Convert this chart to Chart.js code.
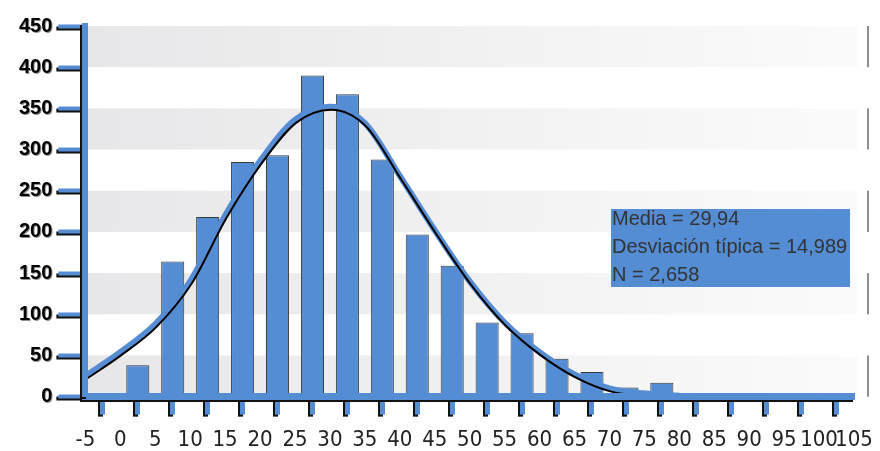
<!DOCTYPE html>
<html>
<head>
<meta charset="utf-8">
<script src="https://cdn.jsdelivr.net/npm/chart.js@4/dist/chart.umd.min.js"></script>
<style>
  html, body { margin: 0; padding: 0; background: #ffffff; }
  canvas { display: block; }
</style>
</head>
<body>
<canvas id="hist" width="880" height="451"></canvas>
<script>
// Histogram bins (lower edge of each 5-unit class) and their counts
const binStarts = [0, 5, 10, 15, 20, 25, 30, 35, 40, 45, 50, 55, 60, 65, 70, 75];
const binWidth = 5;
const counts = [38, 164, 218, 285, 293, 390, 367, 288, 197, 159, 90, 77, 46, 30, 11, 17];

// Fitted normal curve, sampled at the class boundaries
const curveX = [-5, 0, 5, 10, 15, 20, 25, 30, 35, 40, 45, 50, 55, 60, 65, 70, 75, 80];
const curveY = [25, 54, 88, 140, 220, 286, 336, 352, 332, 268, 202, 140, 90, 54, 27, 10, 4, 1];

// Axis ranges
const xMin = -5, xMax = 105, xStep = 5;
const yMin = 0, yMax = 450, yStep = 50;

// Summary statistics box
const statsLines = ['Media = 29,94', 'Desviación típica = 14,989', 'N = 2,658'];

const BLUE = '#548dd4';
const FONT = "'Liberation Sans', Arial, sans-serif";
const NARROW = "'Liberation Sans Narrow', 'DejaVu Sans Condensed', 'Liberation Sans', Arial, sans-serif";

const barPoints = binStarts.map((s, i) => ({ x: s + binWidth / 2, y: counts[i] }));
const curvePoints = curveX.map((x, i) => ({ x, y: curveY[i] }));

// Alternating grey bands behind the plot, with a thin edge on the right
const bandsPlugin = {
  id: 'bands',
  beforeDraw(chart) {
    const { ctx, chartArea: a, scales: { y } } = chart;
    ctx.save();
    for (let v = yMax; v > yMin; v -= 2 * yStep) {
      const top = y.getPixelForValue(v);
      const bot = y.getPixelForValue(v - yStep);
      const g = ctx.createLinearGradient(a.left, 0, a.right, 0);
      g.addColorStop(0, '#e7e7e9');
      g.addColorStop(1, '#fbfbfb');
      ctx.fillStyle = g;
      ctx.fillRect(a.left, top, a.right + 4 - a.left, bot - top);
      ctx.fillStyle = '#8e8e8e';
      ctx.fillRect(a.right + 13, top, 2, bot - top);
    }
    ctx.restore();
  }
};

// Dark drop shadow under the blue axis lines and tick marks,
// and a soft shadow under the value labels of the vertical axis
function withShadow(scale, fn, color, dx, dy) {
  const orig = scale[fn];
  scale[fn] = function (...args) {
    const c = this.ctx;
    c.save();
    c.shadowColor = color;
    c.shadowOffsetX = dx;
    c.shadowOffsetY = dy;
    c.shadowBlur = 0;
    orig.apply(this, args);
    c.restore();
  };
}
const axisShadowPlugin = {
  id: 'axisShadow',
  beforeDraw(chart) {
    Object.values(chart.scales).forEach(s => {
      if (s.$shadowed) return;
      withShadow(s, 'drawGrid', '#111', -2, 2);
      withShadow(s, 'drawBorder', '#111', -2, 2);
      if (s.axis === 'y') withShadow(s, 'drawLabels', 'rgba(0,0,0,0.45)', 1, 1);
      s.$shadowed = true;
    });
  }
};

// Offset the thin black copy of the curve slightly below the blue one
const curveOffsetPlugin = {
  id: 'curveOffset',
  beforeDatasetDraw(chart, args) {
    if (chart.data.datasets[args.index].id === 'curveEdge') {
      chart.ctx.save();
      chart.ctx.translate(1, 3);
    }
  },
  afterDatasetDraw(chart, args) {
    if (chart.data.datasets[args.index].id === 'curveEdge') {
      chart.ctx.restore();
    }
  }
};

// Statistics box in the upper right of the plot
const statsPlugin = {
  id: 'stats',
  afterDraw(chart) {
    const { ctx, chartArea: a } = chart;
    const left = a.right - 243, top = a.top + 183, w = 239, h = 78;
    ctx.save();
    ctx.fillStyle = BLUE;
    ctx.fillRect(left, top, w, h);
    ctx.fillStyle = '#333333';
    ctx.font = '20px ' + FONT;
    ctx.textBaseline = 'middle';
    ctx.textAlign = 'left';
    statsLines.forEach((t, i) => ctx.fillText(t, left + 1, top + 10 + i * 28));
    ctx.restore();
  }
};

new Chart(document.getElementById('hist'), {
  type: 'bar',
  data: {
    datasets: [
      {
        id: 'curveEdge',
        type: 'line',
        data: curvePoints,
        borderColor: '#000000',
        borderWidth: 2,
        pointRadius: 0,
        fill: false,
        cubicInterpolationMode: 'monotone',
        order: 1
      },
      {
        type: 'line',
        data: curvePoints,
        borderColor: BLUE,
        borderWidth: 6,
        pointRadius: 0,
        fill: false,
        cubicInterpolationMode: 'monotone',
        order: 2
      },
      {
        type: 'bar',
        data: barPoints,
        backgroundColor: BLUE,
        borderColor: '#3a3a3a',
        borderWidth: { top: 1, left: 1, right: 1, bottom: 0 },
        borderSkipped: false,
        categoryPercentage: 1,
        barPercentage: 0.66,
        order: 3
      }
    ]
  },
  options: {
    responsive: false,
    animation: false,
    events: [],
    layout: { padding: { left: 13, right: 26, top: 26, bottom: -15 } },
    plugins: { legend: { display: false }, tooltip: { enabled: false } },
    scales: {
      x: {
        type: 'linear',
        min: xMin,
        max: xMax,
        offset: false,
        ticks: { stepSize: xStep, autoSkip: false, maxRotation: 0, color: '#222', padding: 5,
                 font: { family: NARROW, size: 22, lineHeight: 1.88 } },
        grid: { drawOnChartArea: false, drawTicks: true, tickLength: 18, tickWidth: 5, tickColor: BLUE },
        border: { color: BLUE, width: 7, z: 1 }
      },
      y: {
        min: yMin,
        max: yMax,
        ticks: { stepSize: yStep, color: '#000', padding: 6, font: { family: FONT, size: 20, weight: 'bold' } },
        grid: { drawOnChartArea: false, drawTicks: true, tickLength: 27, tickWidth: 4, tickColor: BLUE },
        border: { color: BLUE, width: 6, z: 1 }
      }
    }
  },
  plugins: [bandsPlugin, axisShadowPlugin, curveOffsetPlugin, statsPlugin]
});
</script>
</body>
</html>
